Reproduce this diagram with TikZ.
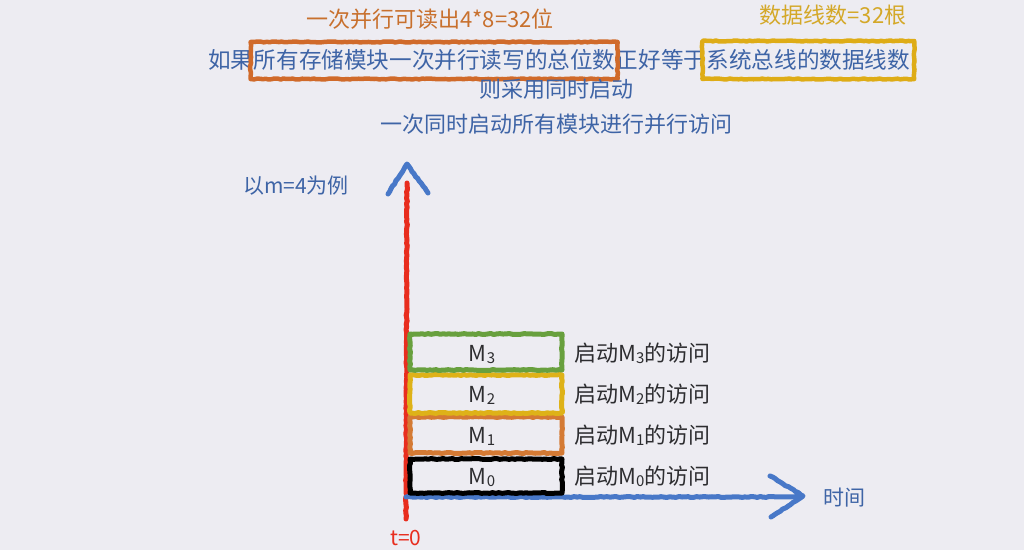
\documentclass[tikz,border=0pt]{standalone}
\usepackage{fontspec}
\setmainfont{Noto Sans CJK SC}
\usetikzlibrary{decorations.pathmorphing}
\definecolor{bg}{RGB}{237,236,242}
\definecolor{txtblue}{RGB}{62,100,166}
\definecolor{txtorange}{RGB}{200,112,45}
\definecolor{txtgold}{RGB}{212,168,40}
\definecolor{boxorange}{RGB}{208,106,42}
\definecolor{boxgold}{RGB}{222,172,22}
\definecolor{axred}{RGB}{232,45,30}
\definecolor{axblue}{RGB}{72,120,200}
\definecolor{mgreen}{RGB}{104,160,62}
\definecolor{myellow}{RGB}{222,178,24}
\definecolor{morange}{RGB}{212,122,52}
\definecolor{dark}{RGB}{45,45,48}
\newcommand{\msub}[1]{\raisebox{-0.08em}{\fontsize{15}{15}\selectfont #1}}
\begin{document}
\begin{tikzpicture}[x=1pt,y=1pt,
  txt/.style={inner sep=0pt, text height=0.86em, text depth=0.14em, font=\fontsize{22}{26}\selectfont},
  maintxt/.style={txt, font=\fontsize{22.6}{26}\selectfont, text=txtblue, anchor=west},
  crayon/.style={line width=#1, line cap=round, line join=round,
     decorate, decoration={random steps, segment length=3pt, amplitude=0.5pt}},
  hl/.style={draw=#1, crayon=4.5pt},
  mbox/.style={draw=#1, crayon=5pt},
  axis/.style={draw=#1, crayon=5pt},
]
\fill[bg] (0,0) rectangle (1024,550);
\useasboundingbox (0,0) rectangle (1024,550);

% top notes
\node[txt, text=txtorange] (note1) at (430,526) {一次并行可读出4*8=32位};
\node[txt, text=txtgold] (note2) at (833,530) {数据线数=32根};

% main sentence
\node[maintxt] (ruguo) at (208,485) {如果};
\node[maintxt] (p1) at (ruguo.east) {所有存储模块一次并行读写的总位数};
\node[maintxt] (p2) at (p1.east) {正好等于};
\node[maintxt] (p3) at (p2.east) {系统总线的数据线数};
\draw[hl=boxorange] ([shift={(-3,23)}]p1.west) rectangle ([shift={(2,-14)}]p1.east);
\draw[hl=boxgold] ([shift={(-4,24)}]p3.west) rectangle ([shift={(4,-14)}]p3.east);

\node[txt, text=txtblue] (l2) at (556,456) {则采用同时启动};
\node[txt, text=txtblue] (l3) at (556,421) {一次同时启动所有模块进行并行访问};

\node[txt, text=txtblue, font=\fontsize{21}{24}\selectfont] (ex) at (296,360) {以m=4为例};

% axes
\coordinate (O) at (406,53);
\coordinate (vbot) at (406,31);
\coordinate (vtop) at (407,367);
\coordinate (vtip) at (407,386);
\coordinate (vl) at (388,356);
\coordinate (vr) at (428,357);
\coordinate (hend) at (800,53);
\coordinate (htip) at (803,54);
\coordinate (hu) at (770,74);
\coordinate (hd) at (771,33);

\draw[axis=axred] (vbot) -- (vtop);
\draw[axis=axblue] (vl) -- (vtip) -- (vr);
\draw[axis=axblue] (O) -- (hend);
\draw[axis=axblue] (hu) -- (htip) -- (hd);

% module boxes
\draw[mbox=black]   (410,57)  rectangle (562,91);
\draw[mbox=morange] (410,97)  rectangle (562,133);
\draw[mbox=myellow] (410,137) rectangle (562,175);
\draw[mbox=mgreen]  (410,180) rectangle (562,216);

\node[txt, text=dark] (m0) at (482,69)  {M\msub{0}};
\node[txt, text=dark] (m1) at (482,110) {M\msub{1}};
\node[txt, text=dark] (m2) at (482,151) {M\msub{2}};
\node[txt, text=dark] (m3) at (482,192) {M\msub{3}};

\node[txt, text=dark, anchor=west] (s0) at (574,69)  {启动M\msub{0}的访问};
\node[txt, text=dark, anchor=west] (s1) at (574,110) {启动M\msub{1}的访问};
\node[txt, text=dark, anchor=west] (s2) at (574,151) {启动M\msub{2}的访问};
\node[txt, text=dark, anchor=west] (s3) at (574,192) {启动M\msub{3}的访问};

\node[txt, text=txtblue, font=\fontsize{21}{24}\selectfont] (time) at (844,48) {时间};
\node[txt, text=axred, font=\fontsize{21}{24}\selectfont] (t0) at (406,8) {t=0};
\end{tikzpicture}
\end{document}
